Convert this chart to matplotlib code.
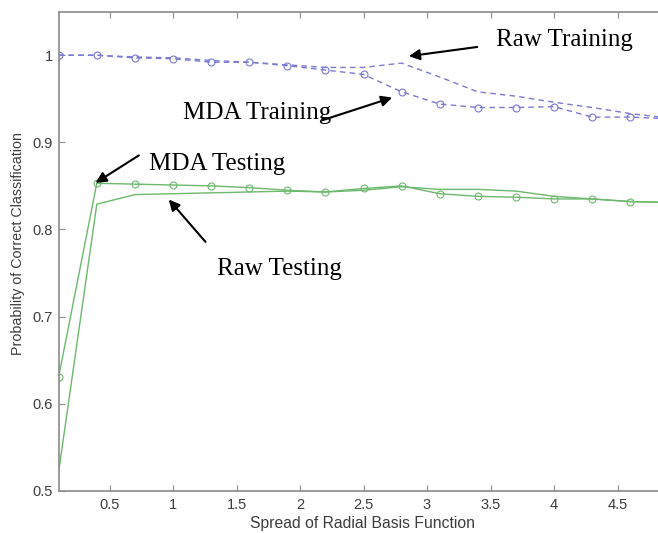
import matplotlib
matplotlib.use("Agg")
import matplotlib.pyplot as plt

# ---- data ----
spread = [0.1, 0.4, 0.7, 1.0, 1.3, 1.6, 1.9, 2.2, 2.5, 2.8, 3.1, 3.4, 3.7, 4.0, 4.3, 4.6, 4.9]
mda_training = [1.000, 1.000, 0.997, 0.996, 0.992, 0.992, 0.988, 0.983, 0.978, 0.958,
                0.944, 0.940, 0.940, 0.941, 0.929, 0.929, 0.927]
raw_training = [1.000, 1.000, 0.998, 0.997, 0.994, 0.992, 0.989, 0.986, 0.986, 0.991,
                0.975, 0.958, 0.953, 0.946, 0.940, 0.933, 0.928]
mda_testing = [0.631, 0.853, 0.852, 0.851, 0.850, 0.848, 0.845, 0.843, 0.847, 0.850,
               0.841, 0.838, 0.837, 0.835, 0.835, 0.832, 0.831]
raw_testing = [0.522, 0.829, 0.840, 0.841, 0.842, 0.843, 0.844, 0.843, 0.845, 0.849,
               0.846, 0.846, 0.844, 0.838, 0.835, 0.832, 0.831]

xticks = [0.5, 1, 1.5, 2, 2.5, 3, 3.5, 4, 4.5]
xticklabels = ["0.5", "1", "1.5", "2", "2.5", "3", "3.5", "4", "4.5"]
yticks = [0.5, 0.6, 0.7, 0.8, 0.9, 1.0]
yticklabels = ["0.5", "0.6", "0.7", "0.8", "0.9", "1"]

W, H = 658, 533
fig = plt.figure(figsize=(W / 100, H / 100), dpi=100)
ax_l, ax_r, ax_t, ax_b = 58.7, 658, 11.7, 490.7
ax = fig.add_axes([ax_l / W, 1 - ax_b / H, (ax_r - ax_l) / W, (ax_b - ax_t) / H])

blue = "#7a7ad2"
green = "#6cb86c"
dash = (0, (4, 3))

ax.plot(spread, raw_training, color=blue, lw=1.0, linestyle=dash)
ax.plot(spread, mda_training, color=blue, lw=1.0, linestyle=dash, marker="o",
        markersize=5, markerfacecolor="none", markeredgewidth=0.8)
ax.plot(spread, raw_testing, color=green, lw=1.0)
ax.plot(spread, mda_testing, color=green, lw=1.0, marker="o",
        markersize=5, markerfacecolor="none", markeredgewidth=0.8)

ax.set_xlim(0.1, 0.1 + (ax_r - ax_l) / 127.0)
ax.set_ylim(0.5, 1.05)
ax.set_xticks(xticks)
ax.set_xticklabels(xticklabels)
ax.set_yticks(yticks)
ax.set_yticklabels(yticklabels)

spine_col = "#8a8a8a"
for s in ["left", "bottom", "top"]:
    ax.spines[s].set_color(spine_col)
    ax.spines[s].set_linewidth(1.2)
ax.spines["right"].set_visible(False)
ax.tick_params(direction="in", length=4, width=0.8, color=spine_col,
               labelsize=10.5, labelcolor="#3c3c3c", top=True, right=False)
ax.tick_params(axis="x", pad=5)
ax.tick_params(axis="y", pad=4)
for lab in ax.get_xticklabels() + ax.get_yticklabels():
    lab.set_family("Liberation Sans")

ax.set_xlabel("Spread of Radial Basis Function", family="Liberation Sans",
              fontsize=11.3, color="#3c3c3c")
ax.set_ylabel("Probability of Correct Classification", family="Liberation Sans",
              fontsize=10.3, color="#3c3c3c")
ax.xaxis.set_label_coords((363 - ax_l) / (ax_r - ax_l), (ax_b - 516) / (ax_b - ax_t))
ax.yaxis.set_label_coords((25 - ax_l) / (ax_r - ax_l), (ax_b - 243.5) / (ax_b - ax_t))

tfont = dict(family="Liberation Serif", fontsize=18, color="black", va="baseline")
aprops = dict(arrowstyle="-|>", color="black", lw=1.5, mutation_scale=16,
              shrinkA=0, shrinkB=0)

ax.text(3.54, 1.0103, "Raw Training", **tfont)
ax.annotate("", xy=(2.857, 0.9989), xytext=(3.395, 1.0095), arrowprops=aprops)

ax.text(1.08, 0.927, "MDA Training", **tfont)
ax.annotate("", xy=(2.726, 0.9514), xytext=(2.177, 0.9254), arrowprops=aprops)

ax.text(0.81, 0.868, "MDA Testing", **tfont)
ax.annotate("", xy=(0.39, 0.8534), xytext=(0.731, 0.885), arrowprops=aprops)

ax.text(1.348, 0.7474, "Raw Testing", **tfont)
ax.annotate("", xy=(0.967, 0.8343), xytext=(1.256, 0.7857), arrowprops=aprops)

fig.savefig("out.png", dpi=100)
